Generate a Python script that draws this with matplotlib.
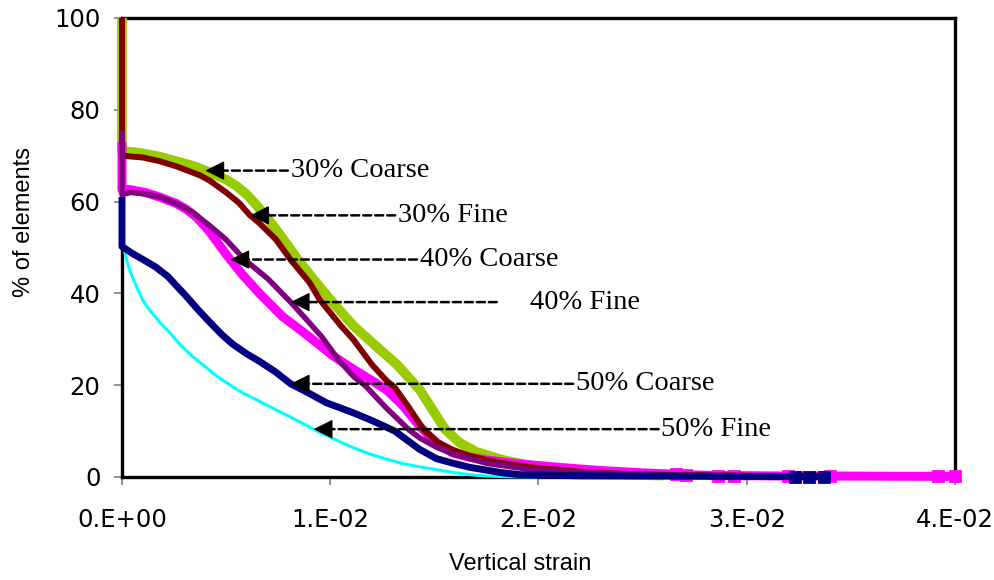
import numpy as np
import matplotlib
matplotlib.use("Agg")
import matplotlib.pyplot as plt

# strain values are in units of 1e-2, percentages of elements on y
x_30c = [0, 0, 0.05, 0.10, 0.18, 0.26, 0.34, 0.42, 0.50, 0.55, 0.60, 0.65, 0.70, 0.75,
         0.80, 0.845, 0.93, 1.01, 1.11, 1.22, 1.32, 1.43, 1.50, 1.55, 1.62, 1.70, 1.83,
         1.99, 2.15, 2.30, 2.45, 2.60]
y_30c = [100, 71, 70.8, 70.5, 69.8, 68.8, 67.8, 66.4, 64.8, 63.4, 61.5, 59, 56.3, 53.3,
         50.2, 47.3, 42.5, 38.1, 33, 28.5, 24.5, 19, 14, 10.5, 7.5, 5.5, 3.7,
         2.2, 1.2, 0.8, 0.5, 0.3]

x_30f = [0, 0, 0.05, 0.10, 0.18, 0.26, 0.375, 0.42, 0.50, 0.56, 0.615, 0.66, 0.74, 0.81,
         0.90, 0.95, 1.05, 1.11, 1.20, 1.27, 1.31, 1.38, 1.45, 1.52, 1.59, 1.67, 1.75,
         1.87, 1.99, 2.20, 2.40, 2.50, 2.58, 2.64, 2.70, 2.77, 2.84, 2.92, 3.00]
y_30f = [100, 70, 69.8, 69.6, 68.8, 67.7, 65.7, 64.6, 62, 59.8, 57, 55.3, 51.7, 47.3,
         42.4, 38.6, 33, 30, 24.5, 21, 19.5, 15, 10.2, 7.5, 5.9, 4.6, 3.7,
         2.7, 2.0, 1.2, 0.7, 0.55, 0.5, 0.45, 0.4, 0.35, 0.3, 0.3, 0.25]

x_40c = [0, 0, 0.04, 0.11, 0.18, 0.26, 0.31, 0.36, 0.42, 0.50, 0.58, 0.66, 0.77, 0.90,
         1.01, 1.11, 1.20, 1.27, 1.35, 1.43, 1.51, 1.59, 1.67, 1.75, 1.90, 2.07, 2.30,
         2.50, 2.66, 2.71, 2.86, 2.94, 3.20, 3.40, 3.92, 4.00]
y_40c = [73, 62.6, 62.6, 62, 61, 59.6, 58.3, 56.5, 53.5, 48.5, 44, 40, 35, 30.5,
         26.5, 23.5, 21, 19, 15.5, 11, 7.4, 5.2, 4.3, 3.7, 2.9, 2.2, 1.4,
         0.9, 0.6, 0.5, 0.3, 0.3, 0.2, 0.2, 0.15, 0.15]

x_40f = [0, 0, 0.04, 0.11, 0.18, 0.26, 0.34, 0.42, 0.50, 0.59, 0.70, 0.81, 0.90, 0.96,
         1.04, 1.11, 1.17, 1.27, 1.38, 1.43, 1.51, 1.59, 1.75, 1.87, 1.99, 2.30, 2.60,
         2.80]
y_40f = [75.5, 61.5, 62, 61.7, 61, 59.6, 57.6, 54.8, 51.7, 47.3, 43.2, 38.1, 33.6, 30.5,
         25.5, 22, 19.8, 15, 10.2, 8.5, 6.5, 5.0, 3.0, 2.2, 1.5, 0.8, 0.4,
         0.3]

x_50c = [0, 0, 0.05, 0.10, 0.16, 0.22, 0.31, 0.37, 0.42, 0.48, 0.53, 0.60, 0.66, 0.74,
         0.81, 0.90, 0.98, 1.11, 1.20, 1.31, 1.43, 1.51, 1.59, 1.67, 1.75, 1.83, 1.91,
         2.20, 2.60, 3.23, 3.30, 3.37]
y_50c = [61, 50.2, 48.7, 47.4, 45.8, 43.7, 39.3, 36.2, 33.8, 31, 29, 26.8, 25.2, 22.8,
         20.3, 18.2, 16.2, 14, 12.3, 10, 6, 4, 3.0, 2.1, 1.5, 0.9, 0.5,
         0.25, 0.2, 0.1, 0.1, 0.1]

x_50f = [0, 0.01, 0.03, 0.05, 0.07, 0.10, 0.13, 0.18, 0.23, 0.28, 0.34, 0.40, 0.46, 0.52,
         0.58, 0.66, 0.74, 0.82, 0.90, 0.95, 1.05, 1.11, 1.19, 1.27, 1.35, 1.43, 1.51,
         1.59, 1.67, 1.75, 1.85, 2.00]
y_50f = [50, 49.5, 46, 43.5, 41.5, 38.5, 36.5, 33.8, 31.4, 28.8, 26.2, 24, 21.8, 20,
         18.3, 16.5, 14.6, 12.8, 10.9, 9.7, 7.6, 6.4, 5.0, 3.9, 2.9, 2.2, 1.6,
         1.0, 0.5, 0.2, 0.05, 0.0]

x_ticks = [0, 1, 2, 3, 4]
x_tick_labels = ['0.E+00', '1.E-02', '2.E-02', '3.E-02', '4.E-02']
y_ticks = [0, 20, 40, 60, 80, 100]

# label, curve, colour, width, tail marker, first marked point, arrow x, text x
series = [
    ('30% Coarse', x_30c, y_30c, '#99CC00', 7.0, None, None, 0.40, 0.81),
    ('40% Coarse', x_40c, y_40c, '#FF00FF', 6.5, 's', 28, 0.52, 1.43),
    ('30% Fine', x_30f, y_30f, '#800000', 4.3, 'x', 30, 0.615, 1.325),
    ('40% Fine', x_40f, y_40f, '#800080', 4.0, None, None, 0.81, 1.96),
    ('50% Fine', x_50f, y_50f, '#00FFFF', 2.2, None, None, 0.92, 2.59),
    ('50% Coarse', x_50c, y_50c, '#000080', 5.0, 's', 29, 0.81, 2.18),
]

fig = plt.figure(figsize=(9.95, 5.8), dpi=100)
ax = fig.add_axes([0.1226, 0.1776, 0.8372, 0.7914])

for name, xs, ys, col, lw, mk, m0, ax_x, tx in series:
    xs = np.array(xs) * 1e-2
    ax.plot(xs, ys, color=col, lw=lw, solid_joinstyle='round', solid_capstyle='butt',
            clip_on=False, zorder=3)
    if mk:
        ax.plot(xs[m0:], ys[m0:], ls='none', marker=mk, color=col, ms=7 if mk == 's' else 5,
                mew=2, clip_on=False, zorder=3)

# dashed leader from each label, solid black head at the curve
for name, xs, ys, col, lw, mk, m0, ax_x, tx in series:
    ty = np.interp(ax_x, xs[1:], ys[1:])
    gap = 22 if name == '40% Fine' else 0
    ax.annotate(name, xy=(ax_x * 1e-2, ty), xytext=(tx * 1e-2, ty),
                ha='left', va='center', fontsize=20.5, family='Liberation Serif',
                arrowprops=dict(arrowstyle='-', color='black', lw=1.8,
                                ls=(0, (3.2, 1.6)), shrinkA=gap, shrinkB=8),
                zorder=5)
    ax.annotate('', xy=(ax_x * 1e-2, ty), xytext=((ax_x + 0.09) * 1e-2, ty),
                arrowprops=dict(arrowstyle='-|>', color='black', lw=1.0,
                                mutation_scale=30, shrinkA=0, shrinkB=0),
                zorder=5)

ax.set_xlim(0, 0.04)
ax.set_ylim(0, 100)
ax.set_xticks(np.array(x_ticks) * 1e-2)
ax.set_xticklabels(x_tick_labels)
ax.set_yticks(y_ticks)

for s in ax.spines.values():
    s.set_linewidth(2.4)
    s.set_color('black')
    s.set_zorder(2.5)

ax.tick_params(axis='both', direction='out', length=5.5, width=1.2, color='#808080',
               labelsize=17.5, labelcolor='black')
ax.tick_params(axis='x', pad=17)
ax.tick_params(axis='y', pad=10)

ax.set_xlabel('Vertical strain', fontsize=17, family='Liberation Sans')
ax.set_ylabel('% of elements', fontsize=17, family='Liberation Sans')
ax.xaxis.set_label_coords(0.478, -0.165)
ax.yaxis.set_label_coords(-0.105, 0.556)

fig.savefig('out.png', dpi=100, facecolor='white')
